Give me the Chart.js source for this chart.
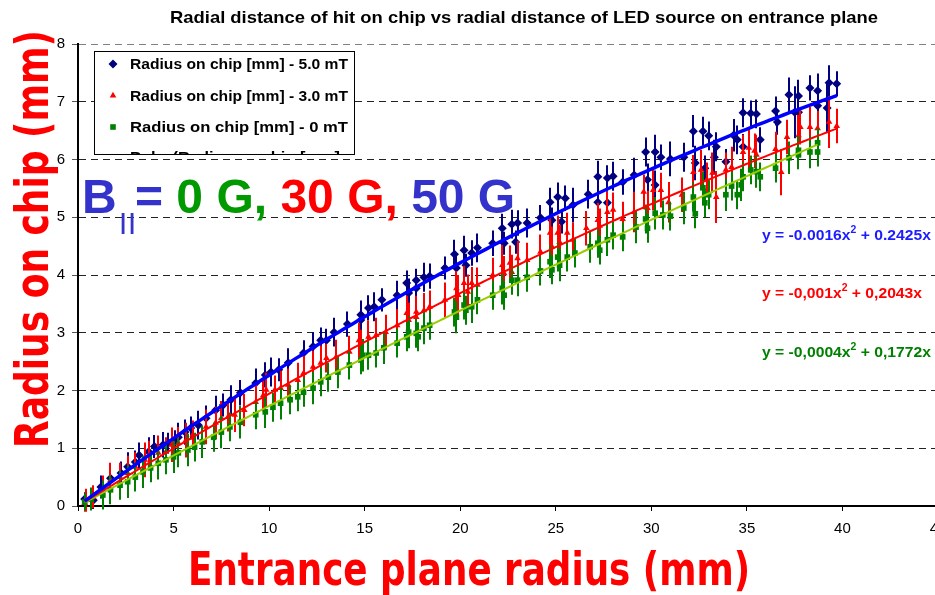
<!DOCTYPE html>
<html>
<head>
<meta charset="utf-8">
<script src="https://cdn.jsdelivr.net/npm/chart.js@4.4.1/dist/chart.umd.min.js"></script>
<style>
  html, body { margin: 0; padding: 0; background: #fff; overflow: hidden; }
  #wrap { position: relative; width: 960px; height: 595px; }
</style>
</head>
<body>
<div id="wrap"><canvas id="chart" width="960" height="595"></canvas></div>
<script>
// Measured points: [entrance radius (mm), radius on chip (mm), uncertainty (mm)]
const field50 = [
  [0.35,0.12,0.12],[0.8,0.10,0.15],[1.2,0.33,0.2],[1.7,0.48,0.22],[2.25,0.57,0.2],[2.6,0.68,0.25],
  [3.0,0.76,0.2],[3.2,0.88,0.22],[3.7,0.94,0.25],[4.0,1.03,0.2],[4.45,1.06,0.22],[4.7,1.09,0.18],
  [5.1,1.11,0.2],[5.25,1.19,0.25],[5.6,1.28,0.22],[5.9,1.35,0.2],[6.3,1.40,0.25],[6.7,1.52,0.22],
  [7.2,1.66,0.25],[7.6,1.75,0.2],[8.0,1.84,0.25],[8.5,1.96,0.22],[9.3,2.13,0.25],[9.8,2.27,0.22],
  [10.1,2.32,0.25],[10.5,2.36,0.2],[11.0,2.48,0.25],[11.8,2.65,0.22],[12.3,2.76,0.25],[12.7,2.87,0.22],
  [13.0,2.87,0.2],[13.4,3.01,0.25],[14.1,3.15,0.22],[14.8,3.31,0.25],[14.8,3.22,0.2],[15.2,3.43,0.22],
  [15.5,3.45,0.25],[15.9,3.57,0.2],[16.7,3.65,0.25],[17.2,3.86,0.22],[17.3,3.69,0.25],[17.7,3.91,0.2],
  [17.7,3.77,0.22],[18.1,3.96,0.25],[18.4,3.98,0.22],[19.2,4.12,0.2],[19.7,4.36,0.25],[19.8,4.12,0.22],
  [20.2,4.43,0.25],[20.3,4.17,0.2],[20.6,4.38,0.22],[20.9,4.47,0.25],[21.7,4.55,0.22],[22.2,4.81,0.25],
  [22.3,4.55,0.2],[22.7,4.88,0.25],[22.9,4.57,0.2],[23.0,4.90,0.22],[23.5,4.90,0.25],[24.2,4.99,0.22],
  [24.7,5.26,0.25],[24.8,4.95,0.22],[25.1,5.35,0.25],[25.3,4.92,0.2],[25.5,5.33,0.22],[25.9,5.21,0.3],
  [26.7,5.40,0.25],[27.2,5.70,0.28],[27.2,5.26,0.25],[27.7,5.68,0.22],[27.7,5.25,0.2],[28.0,5.71,0.25],
  [28.5,5.61,0.22],[29.1,5.73,0.3],[29.7,6.13,0.25],[29.8,5.65,0.28],[30.2,6.13,0.3],[30.2,5.56,0.25],
  [30.5,6.04,0.22],[31.0,6.01,0.3],[31.7,6.04,0.25],[32.2,6.49,0.28],[32.3,5.94,0.3],[32.7,6.49,0.25],
  [32.8,5.85,0.22],[33.0,6.41,0.25],[33.3,6.04,0.3],[33.4,6.22,0.25],[33.9,5.96,0.22],[34.3,6.42,0.28],
  [34.5,6.34,0.25],[34.8,6.22,0.22],[34.8,6.81,0.25],[35.2,6.80,0.22],[35.5,6.79,0.25],[35.7,6.34,0.22],
  [36.5,6.84,0.25],[36.6,6.65,0.22],[37.2,7.12,0.3],[37.5,6.82,0.45],[37.7,7.10,0.28],[37.7,6.82,0.3],
  [38.3,7.24,0.22],[38.7,7.19,0.3],[38.7,6.93,0.22],[39.2,6.89,0.42],[39.3,7.33,0.3],[39.7,7.31,0.22]
];
const field30 = [
  [0.35,0.05,0.15],[0.4,0.10,0.2],[0.8,0.16,0.2],[1.3,0.28,0.25],[1.7,0.45,0.3],[2.2,0.50,0.25],
  [2.6,0.57,0.3],[3.0,0.68,0.25],[3.5,0.80,0.3],[3.7,0.88,0.25],[4.2,0.92,0.3],[4.6,0.94,0.25],
  [4.9,1.06,0.3],[5.25,1.09,0.28],[5.65,1.14,0.3],[6.0,1.23,0.25],[6.7,1.37,0.3],[7.2,1.44,0.28],
  [7.5,1.52,0.3],[7.85,1.54,0.25],[8.2,1.58,0.3],[8.7,1.66,0.28],[9.3,1.80,0.3],[9.7,1.92,0.28],
  [9.85,2.01,0.3],[10.3,2.01,0.25],[10.6,2.04,0.3],[11.0,2.10,0.28],[11.5,2.18,0.3],[11.8,2.30,0.3],
  [12.3,2.41,0.28],[12.7,2.48,0.3],[13.0,2.56,0.25],[13.5,2.58,0.3],[14.2,2.67,0.28],[14.7,2.87,0.3],
  [14.8,2.75,0.3],[15.2,2.93,0.28],[15.6,2.96,0.3],[16.1,3.01,0.3],[16.7,3.13,0.28],[17.2,3.34,0.3],
  [17.3,3.22,0.3],[17.7,3.36,0.28],[17.7,3.27,0.3],[18.1,3.39,0.3],[18.4,3.45,0.28],[19.2,3.57,0.3],
  [19.8,3.77,0.3],[19.9,3.65,0.35],[20.2,3.86,0.3],[20.4,3.71,0.3],[20.6,3.86,0.28],[20.9,3.83,0.3],
  [21.7,4.00,0.3],[22.2,4.17,0.35],[22.3,4.03,0.3],[22.6,4.21,0.3],[22.7,4.05,0.3],[23.0,4.29,0.3],
  [23.5,4.26,0.3],[24.2,4.40,0.3],[24.7,4.73,0.3],[24.8,4.49,0.35],[25.1,4.73,0.3],[25.2,4.57,0.3],
  [25.6,4.73,0.35],[25.9,4.61,0.3],[26.6,4.81,0.3],[27.2,4.95,0.3],[27.3,4.85,0.3],[27.7,5.09,0.35],
  [28.0,5.13,0.3],[28.5,4.97,0.3],[29.1,5.09,0.35],[29.6,5.44,0.3],[29.8,5.16,0.3],[30.1,5.47,0.35],
  [30.5,5.47,0.3],[30.9,5.26,0.35],[31.6,5.39,0.3],[32.2,5.78,0.3],[32.6,5.82,0.35],[32.9,5.65,0.3],
  [33.2,5.77,0.35],[33.4,5.35,0.45],[33.9,5.82,0.3],[34.2,5.87,0.35],[34.8,6.13,0.3],[35.1,6.20,0.35],
  [35.4,6.15,0.3],[35.5,6.08,0.35],[36.5,6.18,0.3],[36.8,5.78,0.4],[37.1,6.39,0.3],[37.7,6.42,0.35],
  [37.8,6.56,0.3],[38.3,6.56,0.35],[38.7,6.54,0.3],[39.3,6.65,0.45],[39.7,6.58,0.3]
];
const field0 = [
  [0.35,0.07,0.15],[0.7,0.12,0.2],[1.3,0.19,0.25],[1.7,0.28,0.25],[2.2,0.36,0.25],[2.6,0.42,0.28],
  [3.0,0.50,0.25],[3.4,0.59,0.28],[3.8,0.66,0.25],[4.2,0.74,0.28],[4.6,0.80,0.25],[5.0,0.85,0.28],
  [5.25,0.92,0.25],[5.75,0.97,0.28],[6.1,1.02,0.25],[6.5,1.11,0.28],[7.1,1.19,0.25],[7.5,1.28,0.28],
  [7.95,1.37,0.25],[8.5,1.45,0.28],[9.3,1.58,0.25],[9.8,1.63,0.28],[10.2,1.71,0.25],[10.6,1.78,0.28],
  [11.1,1.84,0.25],[11.5,1.89,0.25],[11.8,1.97,0.25],[12.3,2.04,0.28],[12.7,2.15,0.25],[13.1,2.23,0.25],
  [13.6,2.32,0.28],[14.2,2.44,0.25],[14.8,2.53,0.25],[14.9,2.61,0.28],[15.2,2.61,0.25],[15.6,2.65,0.25],
  [16.0,2.74,0.28],[16.7,2.82,0.25],[17.2,2.93,0.25],[17.3,3.01,0.28],[17.7,2.99,0.25],[17.8,2.93,0.25],
  [18.1,3.08,0.28],[18.4,3.13,0.25],[19.7,3.36,0.25],[19.8,3.27,0.28],[20.2,3.48,0.25],[20.3,3.39,0.25],
  [20.6,3.45,0.28],[20.9,3.57,0.25],[21.7,3.65,0.25],[22.2,3.77,0.28],[22.3,3.65,0.25],[22.7,3.91,0.25],
  [23.0,3.91,0.28],[23.5,3.96,0.25],[24.2,4.07,0.25],[24.7,4.23,0.28],[24.8,4.09,0.25],[25.1,4.31,0.25],
  [25.2,4.17,0.28],[25.6,4.31,0.25],[26.0,4.38,0.25],[26.8,4.49,0.28],[27.2,4.55,0.25],[27.3,4.43,0.25],
  [27.7,4.61,0.28],[28.0,4.69,0.25],[28.5,4.66,0.25],[29.2,4.83,0.28],[29.7,4.97,0.25],[29.8,4.81,0.25],
  [30.2,5.07,0.28],[30.6,5.04,0.25],[31.0,5.02,0.25],[31.7,5.16,0.28],[32.2,5.35,0.25],[32.3,5.06,0.25],
  [32.7,5.51,0.28],[32.8,5.25,0.25],[33.0,5.39,0.25],[33.9,5.39,0.28],[34.2,5.54,0.25],[34.5,5.39,0.25],
  [34.7,5.56,0.28],[34.8,5.70,0.25],[35.2,5.82,0.25],[35.5,5.79,0.28],[35.7,5.70,0.25],[36.5,5.85,0.25],
  [37.2,6.03,0.28],[37.7,6.08,0.25],[37.7,6.16,0.25],[38.3,6.13,0.28],[38.7,6.29,0.25],[38.7,6.13,0.25]
];

const seriesLabels = [
  'Radius on chip [mm] - 5.0 mT',
  'Radius on chip [mm] - 3.0 mT',
  'Radius on chip [mm] - 0 mT'
];
const trendLegendLabel = 'Poly. (Radius on chip [mm] - 5.0 mT)';

// Polynomial fits y = a*x^2 + b*x, one per field, and the x-range they cover
const trendA = [-0.0016, -0.001, -0.0004];
const trendB = [0.2425, 0.2043, 0.1772];
const trendStart = [0.35, 0.35, 0.35];
const trendEnd = [39.7, 39.7, 38.7];
const trendText = [
  ['y = -0.0016x', '2', ' + 0.2425x'],
  ['y = -0,001x', '2', ' + 0,2043x'],
  ['y = -0,0004x', '2', ' + 0,1772x']
];

const xTicks = [0, 5, 10, 15, 20, 25, 30, 35, 40, 45];
const yTicks = [0, 1, 2, 3, 4, 5, 6, 7, 8];

const chartTitle = 'Radial distance of hit on chip vs radial distance of LED source on entrance plane';
const xTitle = 'Entrance plane radius (mm)';
const yTitle = 'Radius on chip (mm)';

const SANS = '"Liberation Sans", Arial, Helvetica, sans-serif';
const COMIC = '"Comic Sans MS", "DejaVu Sans", sans-serif';

const toPoints = rows => rows.map(r => ({ x: r[0], y: r[1] }));
const toErrors = rows => rows.map(r => r[2]);

function trendPoints(k) {
  const pts = [];
  const n = Math.round((trendEnd[k] - trendStart[k]) / 0.25);
  for (let i = 0; i <= n; i++) {
    const xv = trendStart[k] + (trendEnd[k] - trendStart[k]) * i / n;
    pts.push({ x: xv, y: trendA[k] * xv * xv + trendB[k] * xv });
  }
  return pts;
}

// Vertical error bars drawn just beneath each series' markers
const errorBarPlugin = {
  id: 'errorBars',
  beforeDatasetDraw(chart, args) {
    const ds = chart.data.datasets[args.index];
    if (!ds.yErr) return;
    const { ctx, scales: { x, y } } = chart;
    ctx.save();
    ctx.strokeStyle = ds.errColor;
    ctx.lineWidth = 2;
    ctx.beginPath();
    ds.data.forEach((p, i) => {
      const px = Math.round(x.getPixelForValue(p.x));
      ctx.moveTo(px, y.getPixelForValue(p.y - ds.yErr[i]));
      ctx.lineTo(px, y.getPixelForValue(p.y + ds.yErr[i]));
    });
    ctx.stroke();
    ctx.restore();
  }
};

function fittedText(ctx, text, x, y, font, color, width, align) {
  ctx.save();
  ctx.font = font;
  ctx.fillStyle = color;
  ctx.textBaseline = 'alphabetic';
  ctx.textAlign = 'left';
  const w = ctx.measureText(text).width;
  const sx = width ? width / w : 1;
  ctx.translate(x, y);
  ctx.scale(sx, 1);
  const offset = align === 'center' ? -w / 2 : 0;
  ctx.fillText(text, offset, 0);
  ctx.restore();
}

function drawMarker(ctx, style, x, y, r, color) {
  ctx.save();
  ctx.fillStyle = color;
  ctx.beginPath();
  if (style === 'rectRot') {
    ctx.moveTo(x, y - r); ctx.lineTo(x + r, y); ctx.lineTo(x, y + r); ctx.lineTo(x - r, y);
  } else if (style === 'triangle') {
    ctx.moveTo(x, y - r); ctx.lineTo(x + r * 0.87, y + r * 0.5); ctx.lineTo(x - r * 0.87, y + r * 0.5);
  } else {
    ctx.rect(x - r * 0.7, y - r * 0.7, r * 1.4, r * 1.4);
  }
  ctx.closePath();
  ctx.fill();
  ctx.restore();
}

// Titles, legend box, field annotation and fit equations
const annotationPlugin = {
  id: 'annotations',
  afterDraw(chart) {
    const ctx = chart.ctx;

    // Chart title
    fittedText(ctx, chartTitle, 524, 23, `bold 17px ${SANS}`, '#000', 708, 'center');

    // Axis titles
    fittedText(ctx, xTitle, 469, 585, `bold 46px ${COMIC}`, '#ff0000', 562, 'center');
    ctx.save();
    ctx.translate(48, 239);
    ctx.rotate(-Math.PI / 2);
    fittedText(ctx, yTitle, 0, 0, `bold 46px ${COMIC}`, '#ff0000', 418, 'center');
    ctx.restore();

    // Legend box
    const box = { x: 94.5, y: 51.5, w: 260, h: 103 };
    ctx.save();
    ctx.fillStyle = '#fff';
    ctx.fillRect(box.x, box.y, box.w, box.h);
    ctx.strokeStyle = '#000';
    ctx.lineWidth = 1;
    ctx.strokeRect(box.x, box.y, box.w, box.h);
    ctx.beginPath();
    ctx.rect(box.x + 0.5, box.y + 0.5, box.w - 1, box.h - 1);
    ctx.clip();
    const rows = [64, 95.5, 127, 156.5];
    const legendDs = chart.data.datasets.filter(d => d.yErr);
    legendDs.forEach((d, i) => {
      drawMarker(ctx, d.pointStyle, 113, rows[i], d.legendRadius, d.backgroundColor);
      fittedText(ctx, d.label, 130, rows[i] + 5, `bold 15px ${SANS}`, '#000', 218);
    });
    ctx.strokeStyle = '#0000ff';
    ctx.lineWidth = 3;
    ctx.beginPath(); ctx.moveTo(102, rows[3]); ctx.lineTo(124, rows[3]); ctx.stroke();
    fittedText(ctx, trendLegendLabel, 130, rows[3] + 5, `bold 15px ${SANS}`, '#000', 282);
    ctx.restore();

    // Field annotation: B|| = 0 G, 30 G, 50 G
    ctx.save();
    ctx.textBaseline = 'alphabetic';
    ctx.textAlign = 'left';
    ctx.font = `bold 48px ${SANS}`;
    ctx.fillStyle = '#3333cc';
    ctx.fillText('B', 82, 213);
    ctx.font = `bold 22px ${SANS}`;
    ctx.fillText('|', 120, 228.5);
    ctx.fillText('|', 129, 228.5);
    const parts = [['= ', '#3333cc'], ['0 G,', '#009900'], [' 30 G,', '#ff0000'], [' 50 G', '#3333cc']];
    ctx.font = `bold 48px ${SANS}`;
    let cx = 135;
    parts.forEach(([t, c]) => {
      ctx.fillStyle = c;
      ctx.fillText(t, cx, 213);
      cx += ctx.measureText(t).width;
    });
    ctx.restore();

    // Fit equations
    const eqColors = ['#1c1cff', '#ff0000', '#008000'];
    const eqBase = [240, 298, 357];
    const eqWidth = [169, 160, 169];
    trendText.forEach((parts3, k) => {
      ctx.save();
      ctx.fillStyle = eqColors[k];
      ctx.textBaseline = 'alphabetic';
      ctx.textAlign = 'left';
      const base = `bold 15px ${SANS}`, sup = `bold 10px ${SANS}`;
      ctx.font = base;
      const w1 = ctx.measureText(parts3[0]).width;
      const w3 = ctx.measureText(parts3[2]).width;
      ctx.font = sup;
      const w2 = ctx.measureText(parts3[1]).width;
      const sx = eqWidth[k] / (w1 + w2 + w3);
      ctx.translate(762, eqBase[k]);
      ctx.scale(sx, 1);
      ctx.font = base; ctx.fillText(parts3[0], 0, 0);
      ctx.font = sup; ctx.fillText(parts3[1], w1, -7);
      ctx.font = base; ctx.fillText(parts3[2], w1 + w2, 0);
      ctx.restore();
    });
  }
};

const pointDataset = (rows, label, style, color, errColor, radius, order) => ({
  label,
  data: toPoints(rows),
  yErr: toErrors(rows),
  errColor,
  pointStyle: style,
  pointRadius: radius,
  legendRadius: radius,
  backgroundColor: color,
  borderColor: color,
  borderWidth: 0,
  showLine: false,
  clip: false,
  order
});

const trendDataset = (k, color, width) => ({
  label: 'Poly. ' + seriesLabels[k],
  data: trendPoints(k),
  showLine: true,
  borderColor: color,
  borderWidth: width,
  pointRadius: 0,
  tension: 0,
  fill: false,
  order: 0
});

new Chart(document.getElementById('chart'), {
  type: 'scatter',
  data: {
    datasets: [
      trendDataset(0, '#0000ff', 3.5),
      trendDataset(1, '#ff0000', 2),
      trendDataset(2, '#99cc00', 2),
      pointDataset(field50, seriesLabels[0], 'rectRot', '#000080', '#000080', 4.5, 3),
      pointDataset(field30, seriesLabels[1], 'triangle', '#ff0000', '#ff0000', 3.8, 2),
      pointDataset(field0, seriesLabels[2], 'rect', '#008000', '#008000', 4, 1)
    ]
  },
  options: {
    responsive: false,
    animation: false,
    devicePixelRatio: 1,
    layout: { padding: { left: 0, top: 44, right: 22, bottom: 0 } },
    plugins: {
      legend: { display: false },
      tooltip: { enabled: false },
      title: { display: false }
    },
    scales: {
      x: {
        type: 'linear',
        min: 0, max: 45,
        afterBuildTicks: s => { s.ticks = xTicks.map(v => ({ value: v })); },
        afterFit: s => { s.height = 89; },
        ticks: {
          autoSkip: false, maxRotation: 0, padding: 9, color: '#000',
          font: { family: SANS, size: 15 }
        },
        grid: { drawOnChartArea: false, tickLength: 5, tickColor: '#000', tickWidth: 1 },
        border: { color: '#000', width: 2 }
      },
      y: {
        min: 0, max: 8,
        afterBuildTicks: s => { s.ticks = yTicks.map(v => ({ value: v })); },
        afterFit: s => { s.width = 78; },
        ticks: { padding: 7, color: '#000', font: { family: SANS, size: 15 } },
        grid: {
          color: c => (c.tick && c.tick.value === 8 ? '#808080' : '#222'),
          lineWidth: 1, tickLength: 6, tickColor: '#555', tickWidth: 1
        },
        border: { color: '#000', width: 2, dash: [7, 5] }
      }
    }
  },
  plugins: [errorBarPlugin, annotationPlugin]
});
</script>
</body>
</html>
